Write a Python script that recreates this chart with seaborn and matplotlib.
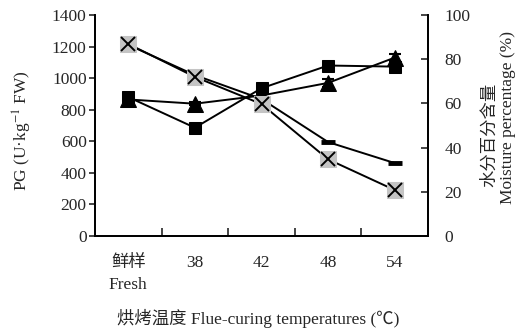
import numpy as np
import pandas as pd
import matplotlib
matplotlib.use("Agg")
import matplotlib.pyplot as plt
import seaborn as sns

categories = ['鲜样\nFresh', '38', '42', '48', '54']
pg_square = [880, 686, 936, 1080, 1073]
pg_square_err = [15, 12, 15, 12, 22]
pg_triangle = [865, 838, 890, 970, 1130]
pg_triangle_err = [20, 10, 10, 25, 22]
moist_cross = [86.9, 72.0, 59.7, 34.7, 20.8]
moist_dash = [86.5, 72.8, 62.0, 42.5, 33.0]
left_ticks = [0, 200, 400, 600, 800, 1000, 1200, 1400]
right_ticks = [0, 20, 40, 60, 80, 100]

sns.set_style("ticks")
plt.rcParams['font.family'] = ['Liberation Serif', 'Noto Sans CJK SC', 'DejaVu Sans']
plt.rcParams['mathtext.fontset'] = 'stix'

fig = plt.figure(figsize=(5.2, 3.31), dpi=100)
ax = fig.add_axes([95/520, 1-236/331, (428-95)/520, (236-15)/331])
ax2 = ax.twinx()

x = np.arange(len(categories))
df = pd.DataFrame({'x': x, 'sq': pg_square, 'tri': pg_triangle,
                   'mc': moist_cross, 'md': moist_dash})

# left axis series
ax.errorbar(x, pg_square, yerr=pg_square_err, fmt='none', ecolor='black',
            elinewidth=1.2, capsize=4.5, capthick=1.5, zorder=3)
ax.errorbar(x, pg_triangle, yerr=pg_triangle_err, fmt='none', ecolor='black',
            elinewidth=1.2, capsize=4.5, capthick=1.5, zorder=3)
sns.lineplot(data=df, x='x', y='sq', ax=ax, color='black', lw=1.4,
             marker='s', markersize=8.5, markeredgecolor='black', zorder=4)
sns.lineplot(data=df, x='x', y='tri', ax=ax, color='black', lw=1.4,
             marker='^', markersize=11.5, markeredgecolor='black', zorder=4)

# right axis series
sns.lineplot(data=df, x='x', y='md', ax=ax2, color='black', lw=1.4,
             marker='_', markersize=10, markeredgewidth=3.5,
             markeredgecolor='black', zorder=3)
sns.lineplot(data=df, x='x', y='mc', ax=ax2, color='black', lw=1.4,
             marker='s', markersize=12, markerfacecolor='#c4c4c4',
             markeredgecolor='#c4c4c4', zorder=4)
ax2.plot(x, moist_cross, ls='none', marker='x', markersize=10,
         markeredgewidth=1.4, color='black', zorder=5)

ax.set_xlim(-0.5, 4.5)
ax.set_ylim(0, 1400)
ax2.set_ylim(0, 100)
ax.set_yticks(left_ticks)
ax2.set_yticks(right_ticks)
ax.set_xticks(x)
ax.set_xticklabels(categories, fontsize=12.5, va='top', linespacing=1.5)
ax.set_xticks(x[:-1] + 0.5, minor=True)
ax.tick_params(axis='x', which='major', length=0, pad=14)
ax.tick_params(axis='x', which='minor', direction='in', length=6, width=1.2)
ax.tick_params(axis='y', direction='out', length=4, width=1.2, labelsize=12.5, pad=2)
ax2.tick_params(axis='y', direction='in', length=5, width=1.2, labelsize=12.5, pad=12)
for t in ax.get_xticklabels():
    t.set_ha('center')

ax.set_xlabel('')
ax.set_ylabel('')
ax2.set_ylabel('')
for a in (ax, ax2):
    a.spines['top'].set_visible(False)
    for s in ('left', 'right', 'bottom'):
        a.spines[s].set_linewidth(1.3)
        a.spines[s].set_color('black')
ax2.spines['right'].set_visible(True)

fig.text(22/520, 1-131/331, 'PG (U·kg$^{-1}$ FW)', rotation=90, ha='center',
         va='center', fontsize=12.5)
fig.text(489/520, 1-135/331, '水分百分含量', rotation=90, ha='center',
         va='center', fontsize=12.5, family=['Noto Sans CJK SC'])
fig.text(508/520, 1-117/331, 'Moisture percentage (%)', rotation=90,
         ha='center', va='center', fontsize=12.5)
fig.text(258/520, 1-318/331, '烘烤温度 Flue-curing temperatures (℃)',
         ha='center', va='center', fontsize=12.5)

fig.savefig('out.png', dpi=100)
